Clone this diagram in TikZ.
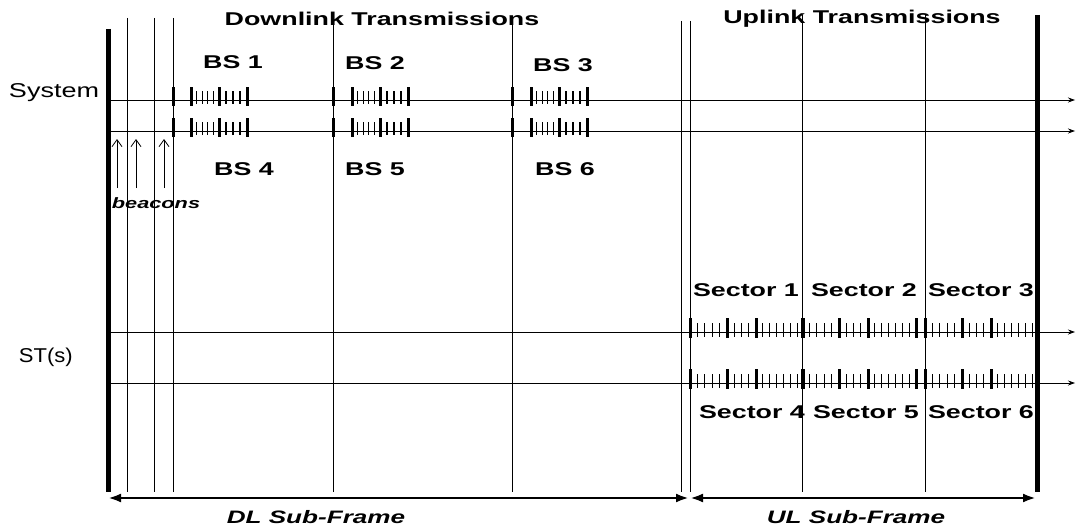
\documentclass[tikz,border=0pt]{standalone}
\usepackage{fontspec}
\setmainfont{Liberation Sans}
\newfontfamily\widesans[FakeStretch=1.45]{Liberation Sans}
\newfontfamily\wideplain[FakeStretch=1.35]{Liberation Sans}
\newfontfamily\midplain[FakeStretch=1.1]{Liberation Sans}
\usetikzlibrary{arrows.meta}

\begin{document}
\begin{tikzpicture}[x=1pt, y=-1pt, >={Stealth[length=7pt,width=5pt]},
    every node/.style={inner sep=0pt, outer sep=0pt},
    heading/.style={font=\widesans\bfseries\fontsize{18.5}{22}\selectfont, anchor=base},
    rowname/.style={font=\wideplain\fontsize{20}{24}\selectfont, anchor=base west},
    framename/.style={font=\widesans\bfseries\itshape\fontsize{18}{22}\selectfont, anchor=base},
    slotline/.style={line width=0.8pt},
    frameedge/.style={line width=5.5pt},
    burst/.style={line width=3pt},
    minislot/.style={line width=1.1pt},
    span/.style={line width=2.6pt, {Latex[length=13pt,width=9pt]}-{Latex[length=13pt,width=9pt]}}]
  \useasboundingbox (0,0) rectangle (1079,527);
  % frame edges and slot boundaries
  \draw[frameedge] (108.5,29) -- (108.5,492);
  \draw[frameedge] (1037.5,15) -- (1037.5,492);
  \foreach \x in {127,154,173,333,512} \draw[slotline] (\x,18) -- (\x,492);
  \foreach \x in {681,690} \draw[slotline] (\x,21) -- (\x,492);
  \foreach \x in {802,925} \draw[slotline] (\x,15) -- (\x,492);
  % time axes of the system and of the subscriber stations
  \foreach \y in {100,131,332,383} \draw[slotline,->] (106,\y) -- (1075,\y);
  % downlink bursts: a boundary mark, then three long marks with short ones between
  \foreach \y in {100,131} {
    \foreach \s/\g in {173/191, 333/352, 512/531} {
      \draw[burst] (\s,\y-13) -- (\s,\y+6);
      \foreach \k in {0,1,2} \draw[burst] (\g+28*\k,\y-13) -- (\g+28*\k,\y+6);
      \foreach \k in {1,...,4} \draw[minislot] (\g+5.6*\k,\y-9) -- (\g+5.6*\k,\y+4);
      \foreach \k in {1,2,3} \draw[minislot] (\g+28+7*\k,\y-9) -- (\g+28+7*\k,\y+4);
    }
  }
  % uplink bursts, one per sector
  \foreach \y in {332,383} {
    \foreach \s in {690,802,925} {
      \foreach \d in {0,37,66} \draw[burst] (\s+\d,\y-14) -- (\s+\d,\y+6);
      \foreach \k in {1,...,4} \draw[minislot] (\s+7.4*\k,\y-9) -- (\s+7.4*\k,\y+5);
      \foreach \k in {1,2,3} \draw[minislot] (\s+37+7.25*\k,\y-9) -- (\s+37+7.25*\k,\y+5);
      \foreach \k in {1,...,6} \draw[minislot] (\s+66+6.86*\k,\y-9) -- (\s+66+6.86*\k,\y+5);
    }
    \foreach \x in {803,916} \draw[burst] (\x,\y-14) -- (\x,\y+6);
  }
  % beacons
  \foreach \x in {117,136,164} \draw[slotline,-{Straight Barb[length=7pt,width=10pt]}] (\x,188) -- (\x,139);
  \node[framename, font=\widesans\bfseries\itshape\fontsize{15}{18}\selectfont] (beacons) at (156,208) {beacons};
  % labels
  \node[heading] (dl-title) at (382,26) {Downlink Transmissions};
  \node[heading] (ul-title) at (862,24) {Uplink Transmissions};
  \node[heading] (bs1) at (233,69) {BS 1};
  \node[heading] (bs2) at (375,70) {BS 2};
  \node[heading] (bs3) at (563,72) {BS 3};
  \node[heading] (bs4) at (244,175) {BS 4};
  \node[heading] (bs5) at (375,175) {BS 5};
  \node[heading] (bs6) at (565,175) {BS 6};
  \node[heading] (sec1) at (746,296) {Sector 1};
  \node[heading] (sec2) at (864,296) {Sector 2};
  \node[heading] (sec3) at (981,296) {Sector 3};
  \node[heading] (sec4) at (752,418) {Sector 4};
  \node[heading] (sec5) at (866,418) {Sector 5};
  \node[heading] (sec6) at (981,418) {Sector 6};
  \node[rowname] (system) at (9,97) {System};
  \node[rowname, font=\midplain\fontsize{20}{24}\selectfont] (sts) at (19,362) {ST(s)};
  % sub-frame spans
  \coordinate (dl-start) at (108,498);
  \coordinate (dl-end) at (689,498);
  \coordinate (ul-start) at (690,498);
  \coordinate (ul-end) at (1036,498);
  \draw[span] (dl-start) -- (dl-end);
  \draw[span] (ul-start) -- (ul-end);
  \node[framename] (dl-label) at (316,523) {DL Sub-Frame};
  \node[framename] (ul-label) at (856,523) {UL Sub-Frame};
\end{tikzpicture}
\end{document}
